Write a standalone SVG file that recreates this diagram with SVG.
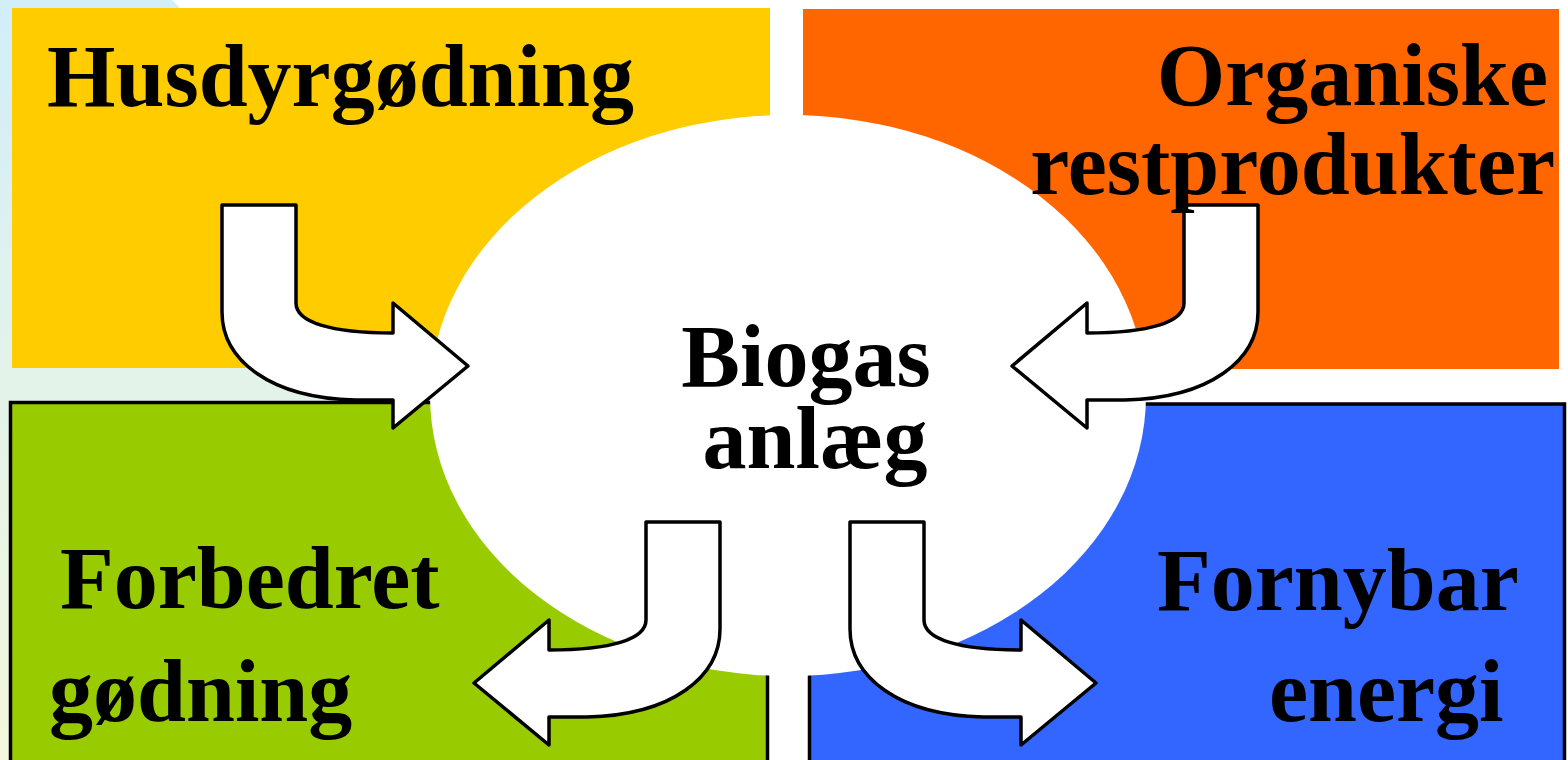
<svg xmlns="http://www.w3.org/2000/svg" width="1568" height="760" viewBox="0 0 1568 760">
<defs>
<linearGradient id="bg" x1="0" y1="0" x2="0" y2="1">
<stop offset="0" stop-color="#d2eef9"/>
<stop offset="0.5" stop-color="#e3f3ea"/>
<stop offset="1" stop-color="#f3f8dc"/>
</linearGradient>
<path id="bend" d="M222,205 L296,205 L296,303 C296,322 330,333 393,333 L393,303 L468,366 L393,428 L393,400 L355,400 C270,398 222,360 222,312 Z"/>
</defs>
<style>
.lbl{font-family:"Liberation Serif","Times New Roman",serif;font-weight:bold;font-size:88px;fill:#000}
.arrow{fill:#fff;stroke:#000;stroke-width:3.5;stroke-linejoin:round}
</style>
<rect width="1568" height="760" fill="#fff"/>
<polygon points="0,0 172,0 768,596 768,760 0,760" fill="url(#bg)"/>
<g id="husdyrgodning">
<rect x="12" y="8" width="758" height="360" fill="#ffcc00"/>
</g>
<g id="organiske">
<rect x="803" y="9" width="756" height="360" fill="#ff6600"/>
</g>
<g id="forbedret">
<rect x="10.5" y="402.5" width="757" height="400" fill="#99cc00" stroke="#000" stroke-width="3.5"/>
</g>
<g id="fornybar">
<rect x="809.5" y="404" width="755" height="400" fill="#3366ff" stroke="#000" stroke-width="3.5"/>
</g>
<g id="biogas">
<ellipse cx="788" cy="395.5" rx="358" ry="280.5" fill="#fff"/>
</g>
<g id="connectors">
<use href="#bend" class="arrow"/>
<use href="#bend" class="arrow" transform="translate(1480,0) scale(-1,1)"/>
<use href="#bend" class="arrow" transform="translate(942,317) scale(-1,1)"/>
<use href="#bend" class="arrow" transform="translate(628,317)"/>
</g>
<g id="labels">
<text class="lbl" x="47" y="106">Husdyrgødning</text>
<text class="lbl" x="1548" y="105" text-anchor="end">Organiske</text>
<text class="lbl" x="1555" y="194" text-anchor="end">restprodukter</text>
<text class="lbl" x="806" y="386" text-anchor="middle" font-size="84">Biogas</text>
<text class="lbl" x="815" y="468" text-anchor="middle" font-size="84">anlæg</text>
<text class="lbl" x="60" y="608">Forbedret</text>
<text class="lbl" x="49" y="721">gødning</text>
<text class="lbl" x="1157" y="610">Fornybar</text>
<text class="lbl" x="1269" y="721">energi</text>
</g>
</svg>
